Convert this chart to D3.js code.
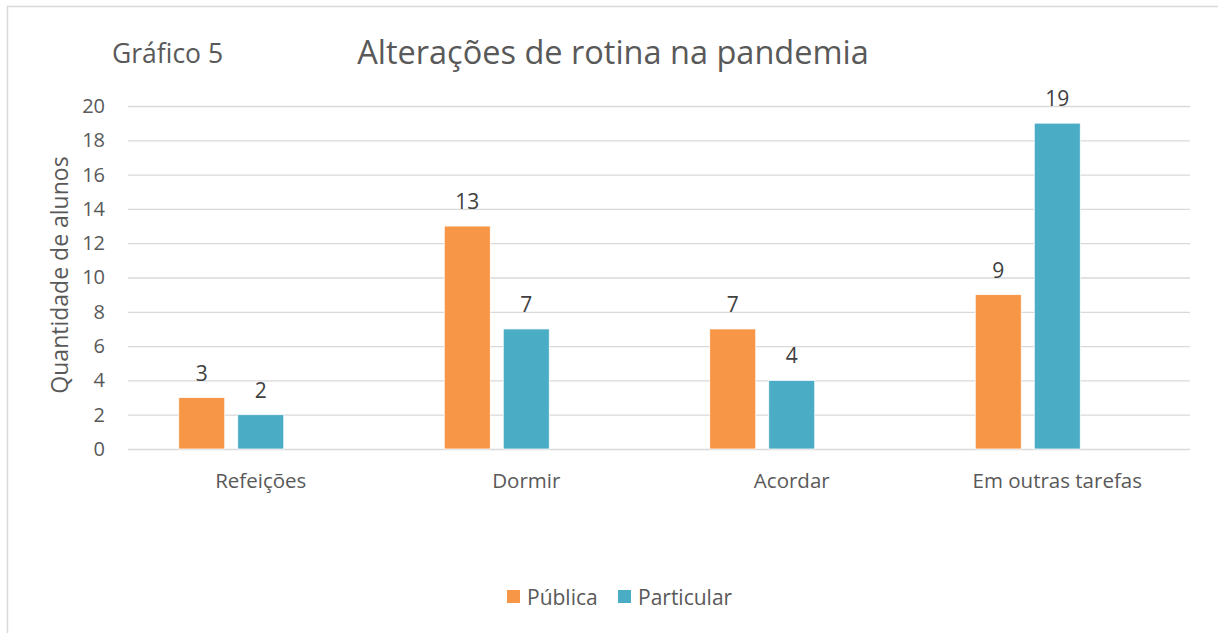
<!DOCTYPE html>
<html><head><meta charset="utf-8">
<script src="https://cdn.jsdelivr.net/npm/d3@7"></script>
<style>
html,body{margin:0;padding:0;background:#fff;}
svg{display:block;font-family:"Open Sans",sans-serif;}
</style></head><body>
<svg id="c" width="1218" height="633"></svg>
<script>
const categories = ["Refeições", "Dormir", "Acordar", "Em outras tarefas"];
const seriesNames = ["Pública", "Particular"];
const publica = [3, 13, 7, 9];
const particular = [2, 7, 4, 19];
const yTicks = [0, 2, 4, 6, 8, 10, 12, 14, 16, 18, 20];
const colors = ["#F79646", "#4BACC6"];
const titleText = "Alterações de rotina na pandemia";
const subTitle = "Gráfico 5";
const yLabel = "Quantidade de alunos";

const svg = d3.select("#c");
const textColor = "#595959";

// outer frame
svg.append("rect").attr("x", 7.5).attr("y", 6.5).attr("width", 1300).attr("height", 700)
  .attr("fill", "none").attr("stroke", "#D9D9D9").attr("stroke-width", 1.5);

const m = {left: 128, right: 1190, top: 106, bottom: 449};
const x0 = d3.scaleBand().domain(categories).range([m.left, m.right]).padding(0);
// three slots per group (third slot is an empty series as in the source)
const slots = ["Pública", "Particular", "_empty"];
const groupW = 164;
const x1 = d3.scaleBand().domain(slots)
  .range([(x0.bandwidth() - groupW) / 2, (x0.bandwidth() + groupW) / 2])
  .paddingInner(13 / 59).paddingOuter(0);
const y = d3.scaleLinear().domain([0, 20]).range([m.bottom, m.top]);

// gridlines
const yAxis = d3.axisLeft(y).tickValues(yTicks).tickSize(-(m.right - m.left)).tickPadding(23);
const gy = svg.append("g").attr("transform", `translate(${m.left},0)`).call(yAxis);
gy.select(".domain").remove();
gy.selectAll(".tick line").attr("stroke", "#D9D9D9").attr("stroke-width", 1.3);
gy.selectAll(".tick text").attr("fill", textColor).attr("font-size", 20).attr("font-family", "Open Sans");

// x axis labels
const xAxis = d3.axisBottom(x0).tickSize(0).tickPadding(24);
const gx = svg.append("g").attr("transform", `translate(0,${m.bottom})`).call(xAxis);
gx.select(".domain").remove();
gx.selectAll(".tick text").attr("fill", textColor).attr("font-size", 20.5).attr("font-family", "Open Sans");

// bars
const data = categories.map((c, i) => ({cat: c, vals: [
  {s: seriesNames[0], v: publica[i], col: colors[0]},
  {s: seriesNames[1], v: particular[i], col: colors[1]}
]}));

const g = svg.selectAll("g.grp").data(data).enter().append("g")
  .attr("class", "grp").attr("transform", d => `translate(${x0(d.cat)},0)`);
g.selectAll("rect").data(d => d.vals).enter().append("rect")
  .attr("x", d => x1(d.s)).attr("width", x1.bandwidth())
  .attr("y", d => y(d.v)).attr("height", d => y(0) - y(d.v))
  .attr("fill", d => d.col).attr("stroke", "#fff").attr("stroke-width", 0.75);
g.selectAll("text").data(d => d.vals).enter().append("text")
  .attr("x", d => x1(d.s) + x1.bandwidth() / 2).attr("y", d => y(d.v) - 17)
  .attr("text-anchor", "middle").attr("fill", "#404040").attr("font-size", 21)
  .text(d => d.v);

// titles
svg.append("text").attr("x", 613).attr("y", 64).attr("text-anchor", "middle")
  .attr("fill", textColor).attr("font-size", 32.5).text(titleText);
svg.append("text").attr("x", 112).attr("y", 63)
  .attr("fill", textColor).attr("font-size", 26.5).text(subTitle);

// y label
svg.append("text").attr("transform", "translate(68,275) rotate(-90)")
  .attr("text-anchor", "middle").attr("fill", textColor).attr("font-size", 23).text(yLabel);

// legend
const leg = svg.append("g");
const legX = [507, 618];
seriesNames.forEach((s, i) => {
  leg.append("rect").attr("x", legX[i]).attr("y", 590).attr("width", 13).attr("height", 13).attr("fill", colors[i]);
  leg.append("text").attr("x", legX[i] + 20).attr("y", 604.5).attr("fill", textColor)
    .attr("font-size", 21).text(s);
});
</script>
</body></html>
